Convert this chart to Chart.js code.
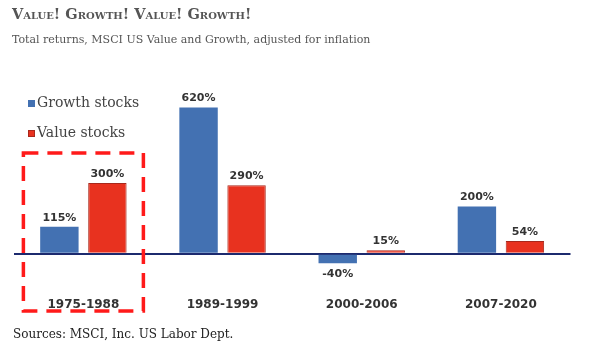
<!DOCTYPE html>
<html>
<head>
<meta charset="utf-8">
<script src="https://cdn.jsdelivr.net/npm/chart.js@4/dist/chart.umd.min.js"></script>
<style>
  html, body { margin: 0; padding: 0; background: #fff; }
  #wrap { position: relative; width: 589px; height: 355px; overflow: hidden; }
  #c { position: absolute; left: 0; top: 0; }
  .t { position: absolute; left: 12px; white-space: nowrap; font-family: "DejaVu Serif", serif; }
  #title { top: 5px; font-size: 14.5px; font-weight: bold; font-variant: small-caps; color: #555; }
  #sub { top: 33px; font-size: 11px; color: #555; }
  #src { top: 327px; left: 13px; font-size: 12px; color: #222; }
</style>
</head>
<body>
<div id="wrap">
  <canvas id="c" width="589" height="355"></canvas>
  <div class="t" id="title">Value! Growth! Value! Growth!</div>
  <div class="t" id="sub">Total returns, MSCI US Value and Growth, adjusted for inflation</div>
  <div class="t" id="src">Sources: MSCI, Inc. US Labor Dept.</div>
</div>
<script>
const categories = ["1975-1988", "1989-1999", "2000-2006", "2007-2020"];
const growthValues = [115, 620, -40, 200];
const valueValues = [300, 290, 15, 54];
const seriesNames = ["Growth stocks", "Value stocks"];
const growthLabels = ["115%", "620%", "-40%", "200%"];
const valueLabels = ["300%", "290%", "15%", "54%"];

const BLUE = "#4371b2";
const RED = "#e8321f";
const RED_BORDER = "#a8281c";

const valueLabelPlugin = {
  id: "valueLabels",
  afterDatasetsDraw(chart) {
    const ctx = chart.ctx;
    const labelSets = [growthLabels, valueLabels];
    ctx.save();
    ctx.font = "bold 11px 'DejaVu Sans', sans-serif";
    ctx.fillStyle = "#333";
    ctx.textAlign = "center";
    ctx.textBaseline = "middle";
    chart.data.datasets.forEach((ds, di) => {
      const meta = chart.getDatasetMeta(di);
      meta.data.forEach((bar, i) => {
        const v = ds.data[i];
        const y = v >= 0 ? bar.y - 9 : bar.y + 11;
        ctx.fillText(labelSets[di][i], bar.x, y);
      });
    });
    ctx.restore();
  }
};

const legendPlugin = {
  id: "floatLegend",
  afterDraw(chart) {
    const ctx = chart.ctx;
    const colors = [BLUE, RED];
    const borders = [BLUE, RED_BORDER];
    ctx.save();
    ctx.font = "14px 'DejaVu Serif', serif";
    ctx.textBaseline = "middle";
    ctx.textAlign = "left";
    seriesNames.forEach((name, i) => {
      const yc = 103.5 + i * 30;
      ctx.fillStyle = colors[i];
      ctx.fillRect(28, yc - 3.5, 7, 7);
      ctx.strokeStyle = borders[i];
      ctx.lineWidth = 1;
      ctx.strokeRect(28.5, yc - 3, 6, 6);
      ctx.fillStyle = "#444";
      ctx.fillText(name, 37, yc);
    });
    ctx.restore();
  }
};

const boxPlugin = {
  id: "highlightBox",
  afterDraw(chart) {
    const x = chart.scales.x;
    const cx = x.getPixelForValue(0);
    const ctx = chart.ctx;
    ctx.save();
    ctx.strokeStyle = "#ff1a1a";
    ctx.lineWidth = 3.5;
    ctx.setLineDash([15, 9]);
    ctx.strokeRect(cx - 60, 153, 120, 158);
    ctx.restore();
  }
};

new Chart(document.getElementById("c"), {
  type: "bar",
  data: {
    labels: categories,
    datasets: [
      { label: seriesNames[0], data: growthValues, backgroundColor: BLUE, borderColor: BLUE, borderWidth: 0 },
      { label: seriesNames[1], data: valueValues, backgroundColor: RED, borderColor: RED_BORDER, borderWidth: 1 }
    ]
  },
  options: {
    responsive: false,
    animation: false,
    devicePixelRatio: 1,
    categoryPercentage: 0.69,
    barPercentage: 0.8,
    layout: { padding: { top: 88.5, left: 13.8, right: 18.5, bottom: 37 } },
    plugins: {
      legend: { display: false },
      title: { display: false },
      tooltip: { enabled: false }
    },
    scales: {
      x: {
        grid: { display: false, drawTicks: false },
        border: { display: false },
        ticks: {
          padding: 6,
          color: "#333",
          font: { family: "'DejaVu Sans', sans-serif", size: 12, weight: "bold" }
        }
      },
      y: {
        min: -160,
        max: 700,
        ticks: { display: false, stepSize: 100 },
        border: { display: false },
        grid: {
          drawTicks: false,
          color: (c) => (c.tick && c.tick.value === 0 ? "#1c2a6e" : "rgba(0,0,0,0)"),
          lineWidth: (c) => (c.tick && c.tick.value === 0 ? 2 : 0)
        }
      }
    }
  },
  plugins: [valueLabelPlugin, legendPlugin, boxPlugin]
});
</script>
</body>
</html>
